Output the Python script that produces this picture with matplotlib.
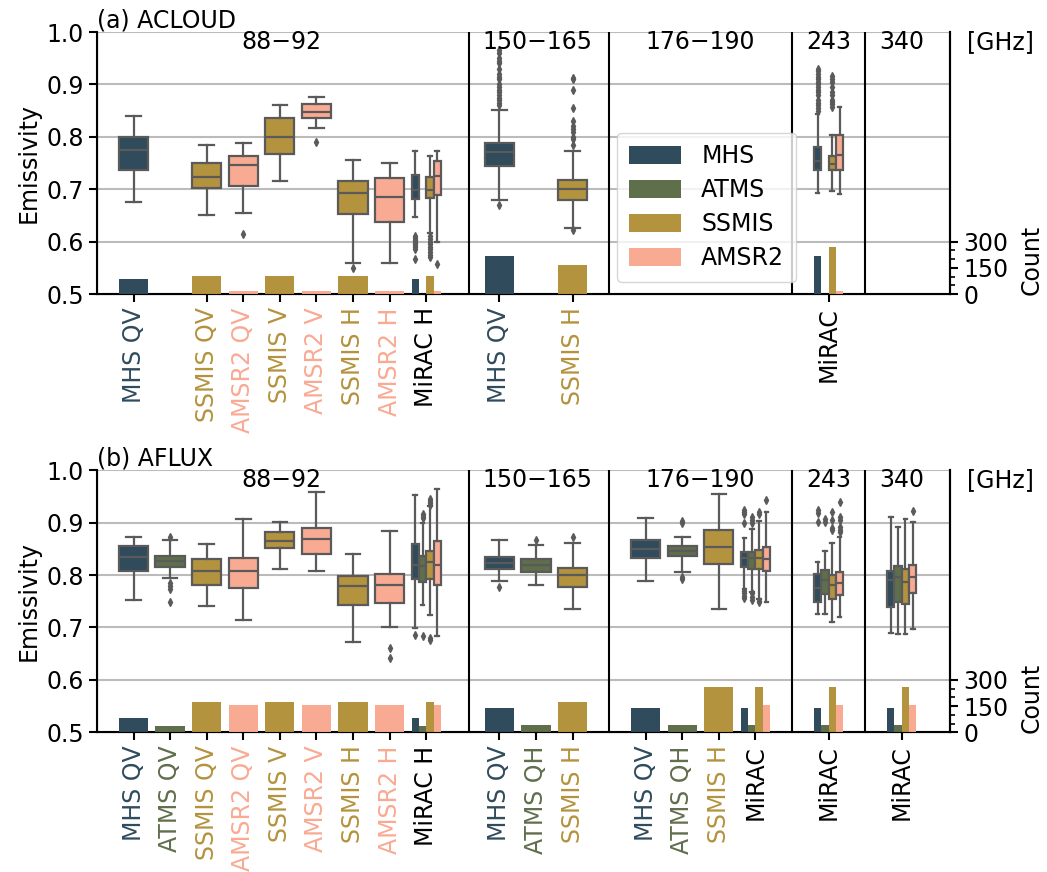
import matplotlib
matplotlib.use("Agg")
import matplotlib.pyplot as plt
from matplotlib.patches import Patch

# category slots along the x axis ('' = gap between frequency groups)
slots = ['MHS QV', 'ATMS QV', 'SSMIS QV', 'AMSR2 QV', 'SSMIS V', 'AMSR2 V',
         'SSMIS H', 'AMSR2 H', 'MiRAC H', '', 'MHS QV', 'ATMS QH', 'SSMIS H', '',
         'MHS QV', 'ATMS QH', 'SSMIS H', 'MiRAC', '', 'MiRAC', '', 'MiRAC']
groups = ['88\u221292', '150\u2212165', '176\u2212190', '243', '340']
instruments = ['MHS', 'ATMS', 'SSMIS', 'AMSR2']

# (a) ACLOUD boxes
a_slot = [0, 2, 3, 4, 5, 6, 7, 8, 8, 8, 10, 12, 19, 19, 19]
a_inst = ['MHS', 'SSMIS', 'AMSR2', 'SSMIS', 'AMSR2', 'SSMIS', 'AMSR2',
          'MHS', 'SSMIS', 'AMSR2', 'MHS', 'SSMIS', 'MHS', 'SSMIS', 'AMSR2']
a_lo = [0.676, 0.650, 0.654, 0.716, 0.816, 0.560, 0.559, 0.647, 0.616, 0.600, 0.680, 0.626, 0.692, 0.697, 0.690]
a_q1 = [0.737, 0.702, 0.706, 0.767, 0.835, 0.652, 0.638, 0.681, 0.683, 0.689, 0.744, 0.680, 0.737, 0.736, 0.737]
a_med = [0.774, 0.723, 0.747, 0.800, 0.848, 0.692, 0.686, 0.699, 0.699, 0.725, 0.771, 0.700, 0.754, 0.748, 0.766]
a_q3 = [0.800, 0.750, 0.764, 0.836, 0.862, 0.716, 0.722, 0.727, 0.723, 0.753, 0.789, 0.718, 0.780, 0.764, 0.804]
a_hi = [0.839, 0.785, 0.789, 0.860, 0.876, 0.756, 0.750, 0.772, 0.764, 0.772, 0.852, 0.773, 0.844, 0.803, 0.857]
a_fl = [[], [], [0.615], [], [0.791], [0.55], [],
        [0.61, 0.606, 0.603, 0.60, 0.597, 0.593, 0.59, 0.585, 0.567],
        [0.61, 0.605, 0.60, 0.595, 0.59, 0.585, 0.58, 0.575, 0.57],
        [0.558],
        [0.67, 0.86, 0.865, 0.87, 0.875, 0.88, 0.885, 0.89, 0.895, 0.90, 0.91,
         0.915, 0.92, 0.93, 0.94, 0.945, 0.95, 0.96, 0.965],
        [0.623, 0.785, 0.795, 0.80, 0.81, 0.815, 0.82, 0.83, 0.855, 0.89, 0.91, 0.913],
        [0.85, 0.855, 0.86, 0.865, 0.87, 0.88, 0.885, 0.89, 0.895, 0.90, 0.905,
         0.91, 0.915, 0.92, 0.925, 0.93],
        [0.857, 0.862, 0.866, 0.87, 0.88, 0.885, 0.895, 0.905, 0.91, 0.917],
        []]
a_bar_slot = [0, 2, 3, 4, 5, 6, 7, 8, 8, 8, 10, 12, 19, 19, 19]
a_bar_inst = ['MHS', 'SSMIS', 'AMSR2', 'SSMIS', 'AMSR2', 'SSMIS', 'AMSR2',
              'MHS', 'SSMIS', 'AMSR2', 'MHS', 'SSMIS', 'MHS', 'SSMIS', 'AMSR2']
a_count = [86, 105, 19, 105, 19, 105, 19, 86, 105, 19, 218, 166, 218, 271, 19]

# (b) AFLUX boxes
b_slot = [0, 1, 2, 3, 4, 5, 6, 7, 8, 8, 8, 8, 10, 11, 12, 14, 15, 16,
          17, 17, 17, 17, 19, 19, 19, 19, 21, 21, 21, 21]
b_inst = ['MHS', 'ATMS', 'SSMIS', 'AMSR2', 'SSMIS', 'AMSR2', 'SSMIS', 'AMSR2',
          'MHS', 'ATMS', 'SSMIS', 'AMSR2', 'MHS', 'ATMS', 'SSMIS',
          'MHS', 'ATMS', 'SSMIS', 'MHS', 'ATMS', 'SSMIS', 'AMSR2',
          'MHS', 'ATMS', 'SSMIS', 'AMSR2', 'MHS', 'ATMS', 'SSMIS', 'AMSR2']
b_lo = [0.753, 0.795, 0.741, 0.714, 0.811, 0.808, 0.672, 0.700, 0.699, 0.743, 0.724, 0.683,
        0.789, 0.781, 0.735, 0.788, 0.806, 0.736, 0.773, 0.768, 0.754, 0.748,
        0.725, 0.725, 0.711, 0.720, 0.689, 0.687, 0.687, 0.697]
b_q1 = [0.807, 0.816, 0.782, 0.776, 0.851, 0.840, 0.742, 0.747, 0.793, 0.786, 0.792, 0.781,
        0.811, 0.806, 0.778, 0.833, 0.836, 0.822, 0.815, 0.812, 0.812, 0.808,
        0.749, 0.764, 0.754, 0.762, 0.740, 0.749, 0.744, 0.765]
b_med = [0.834, 0.827, 0.808, 0.808, 0.865, 0.868, 0.779, 0.781, 0.819, 0.817, 0.825, 0.819,
         0.824, 0.819, 0.800, 0.849, 0.846, 0.854, 0.833, 0.832, 0.833, 0.830,
         0.775, 0.790, 0.781, 0.784, 0.790, 0.797, 0.787, 0.796]
b_q3 = [0.855, 0.837, 0.830, 0.833, 0.882, 0.889, 0.798, 0.803, 0.860, 0.837, 0.846, 0.865,
        0.835, 0.830, 0.814, 0.867, 0.856, 0.886, 0.844, 0.844, 0.847, 0.854,
        0.803, 0.810, 0.800, 0.805, 0.808, 0.818, 0.811, 0.819]
b_hi = [0.873, 0.867, 0.860, 0.907, 0.901, 0.959, 0.841, 0.884, 0.952, 0.900, 0.931, 0.964,
        0.867, 0.857, 0.862, 0.908, 0.873, 0.954, 0.871, 0.887, 0.903, 0.920,
        0.825, 0.846, 0.862, 0.873, 0.910, 0.892, 0.907, 0.902]
b_fl = [[], [0.873, 0.785, 0.780, 0.774, 0.748], [], [], [], [], [], [0.66, 0.642],
        [0.685], [0.908, 0.912, 0.917, 0.683], [0.934, 0.938, 0.941, 0.945, 0.68, 0.677], [],
        [0.778], [0.867], [0.873], [], [0.903, 0.90, 0.797, 0.792], [],
        [0.925, 0.921, 0.917, 0.90, 0.77, 0.765, 0.76, 0.757],
        [0.91, 0.905, 0.90, 0.765, 0.758, 0.752],
        [0.92, 0.916, 0.75, 0.748], [0.944],
        [0.924, 0.918, 0.902], [0.907, 0.902], [0.92, 0.905, 0.89, 0.886],
        [0.94, 0.91, 0.905, 0.892, 0.886, 0.883],
        [], [], [], [0.923]]
b_bar_slot = [0, 1, 2, 3, 4, 5, 6, 7, 8, 8, 8, 8, 10, 11, 12, 14, 15, 16,
              17, 17, 17, 17, 19, 19, 19, 19, 21, 21, 21, 21]
b_bar_inst = b_inst
b_count = [84, 36, 173, 156, 173, 156, 173, 156, 84, 34, 174, 156, 137, 42, 172,
           137, 41, 260, 137, 41, 260, 156, 137, 41, 260, 156, 137, 41, 260, 156]

colors = {'MHS': '#2f4b5c', 'ATMS': '#5f6e4b', 'SSMIS': '#b4933e', 'AMSR2': '#f9aa93'}
edge = '#5a5a5a'
seps = [9.17, 13, 18, 20]
group_x = [4.05, 11.05, 15.5, 19, 21]


def place(slot, inst):
    # MiRAC slots hold all four instruments side by side
    if slots[slot].startswith('MiRAC'):
        return slot + (instruments.index(inst) - 1.5) * 0.2, 0.2
    return slot, 0.8


def draw_panel(ax, title, bslot, binst, lo, q1, med, q3, hi, fl, cslot, cinst, count):
    for s, ins, l, a, m, b, h, f in zip(bslot, binst, lo, q1, med, q3, hi, fl):
        x, w = place(s, ins)
        st = [dict(whislo=l, q1=a, med=m, q3=b, whishi=h, fliers=f)]
        ax.bxp(st, positions=[x], widths=[w], capwidths=[w / 2], patch_artist=True,
               manage_ticks=False,
               boxprops=dict(facecolor=colors[ins], edgecolor=edge, lw=1.6),
               medianprops=dict(color=edge, lw=1.6),
               whiskerprops=dict(color=edge, lw=1.6),
               capprops=dict(color=edge, lw=1.6),
               flierprops=dict(marker='d', markerfacecolor=edge, markeredgecolor=edge,
                               markersize=4))
    ax.set_xlim(-1, 22.32)
    ax.set_ylim(0.5, 1.0)
    ax.set_yticks([0.5, 0.6, 0.7, 0.8, 0.9, 1.0])
    ax.grid(axis='y', color='#bbbbbb', lw=1.5)
    ax.set_axisbelow(True)
    for x in seps:
        ax.axvline(x, color='k', lw=1.5)
    for gx, g in zip(group_x, groups):
        ax.text(gx, 0.962, g, transform=ax.get_xaxis_transform(), ha='center',
                va='center', fontsize=17)
    ax.text(1.059, 0.962, '[GHz]', transform=ax.transAxes, ha='center',
            va='center', fontsize=17)
    ticks = sorted(set(bslot))
    ax.set_xticks(ticks)
    ax.set_xticklabels([slots[t] for t in ticks], rotation=90, fontsize=17)
    for t, lab in zip(ticks, ax.get_xticklabels()):
        name = slots[t].split()[0]
        lab.set_color(colors.get(name, 'k'))
    ax.set_ylabel('Emissivity', fontsize=17)
    ax.set_title(title, loc='left', fontsize=17, pad=3)
    ax.spines['top'].set_visible(False)
    for sp in ax.spines.values():
        sp.set_linewidth(1.5)
    ax.tick_params(labelsize=17, width=1.5, length=6)

    ax2 = ax.twinx()
    for s, ins, c in zip(cslot, cinst, count):
        x, w = place(s, ins)
        ax2.bar(x, c, width=w, color=colors[ins])
    ax2.set_ylim(0, 1500)
    ax2.set_yticks([0, 150, 300])
    ax2.set_yticks([50, 100, 200, 250], minor=True)
    ax2.tick_params(labelsize=17, width=1.5, length=6)
    ax2.tick_params(which='minor', width=1.2, length=3.5)
    ax2.set_ylabel('Count', fontsize=17)
    ax2.yaxis.set_label_coords(1.082, 0.13)
    ax2.spines['top'].set_visible(False)
    ax2.spines['right'].set_linewidth(1.5)
    return ax2


fig = plt.figure(figsize=(10.47, 8.72), dpi=100)
ax_a = fig.add_axes([0.0926, 0.6628, 0.8148, 0.3005])
ax_b = fig.add_axes([0.0926, 0.1602, 0.8148, 0.3005])

draw_panel(ax_a, '(a) ACLOUD', a_slot, a_inst, a_lo, a_q1, a_med, a_q3, a_hi, a_fl,
           a_bar_slot, a_bar_inst, a_count)
draw_panel(ax_b, '(b) AFLUX', b_slot, b_inst, b_lo, b_q1, b_med, b_q3, b_hi, b_fl,
           b_bar_slot, b_bar_inst, b_count)

handles = [Patch(facecolor=colors[i], label=i) for i in instruments]
ax_a.legend(handles=handles, loc='lower left', bbox_to_anchor=(0.61, 0.046),
            borderaxespad=0, fontsize=17, handlelength=2.2, handleheight=0.8,
            labelspacing=0.42, handletextpad=0.85, borderpad=0.5, framealpha=0.8,
            edgecolor='#cccccc')

fig.savefig('out.png', dpi=100)
